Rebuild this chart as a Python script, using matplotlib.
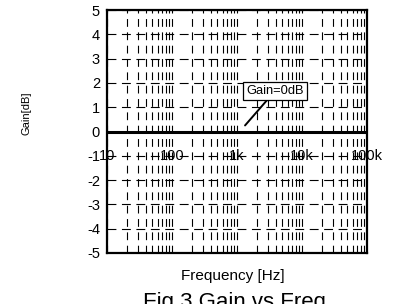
import numpy as np
import matplotlib.pyplot as plt
from matplotlib.ticker import FixedLocator, NullFormatter

plt.rcParams['font.family'] = ['Liberation Sans', 'DejaVu Sans']

# data
freq = [10, 100, 1000, 10000, 100000]
gain = [0, 0, 0, 0, 0]
x_ticks = [10, 100, 1000, 10000, 100000]
x_labels = ['10', '100', '1k', '10k', '100k']
y_ticks = [-5, -4, -3, -2, -1, 0, 1, 2, 3, 4, 5]
note_xy = (1330, 0.25)
note_text_xy = (3850, 1.67)

fig = plt.figure(figsize=(3.97, 3.04), dpi=100)
ax = fig.add_axes([0.2695, 0.1678, 0.6549, 0.7992])

ax.set_xscale('log')
ax.set_xlim(10, 100000)
ax.set_ylim(-5, 5)

# gain line
ax.plot(freq, gain, color='black', lw=2.2, zorder=3)

# grid: dashed lines at every integer and at every minor log position
ax.set_yticks(y_ticks)
ax.set_yticklabels([str(v) for v in y_ticks], fontsize=10.5)
ax.xaxis.set_major_locator(FixedLocator(x_ticks))
ax.xaxis.set_major_formatter(NullFormatter())
ax.xaxis.set_minor_formatter(NullFormatter())
ax.tick_params(axis='both', which='both', length=0, pad=5)
ax.grid(True, which='both', axis='x', color='black', lw=0.8, ls=(0, (7, 5)))
ax.grid(True, which='major', axis='y', color='black', lw=0.8, ls=(0, (8, 5)))

# x tick labels drawn inside the plot at the -1 row
for f, lab in zip(x_ticks, x_labels):
    ax.text(f, -1, lab, ha='center', va='center', fontsize=10.5, zorder=4, clip_on=False)

for s in ax.spines.values():
    s.set_linewidth(1.6)
    s.set_color('black')

ax.annotate('Gain=0dB', xy=note_xy, xytext=note_text_xy, fontsize=9.3,
            ha='center', va='center',
            bbox=dict(boxstyle='square,pad=0.25', fc='white', ec='black', lw=0.9),
            arrowprops=dict(arrowstyle='-', color='black', lw=1.4,
                            shrinkA=0, shrinkB=0), zorder=5)

fig.text(27 / 397, 1 - 113 / 304, 'Gain[dB]', rotation=90, ha='center', va='center', fontsize=8)
fig.text(233 / 397, 1 - 280 / 304, 'Frequency [Hz]', ha='center', va='baseline', fontsize=11)
fig.text(234 / 397, 1 - 308 / 304, 'Fig 3 Gain vs Freq', ha='center', va='baseline', fontsize=16)

fig.savefig('out.png', dpi=100)
